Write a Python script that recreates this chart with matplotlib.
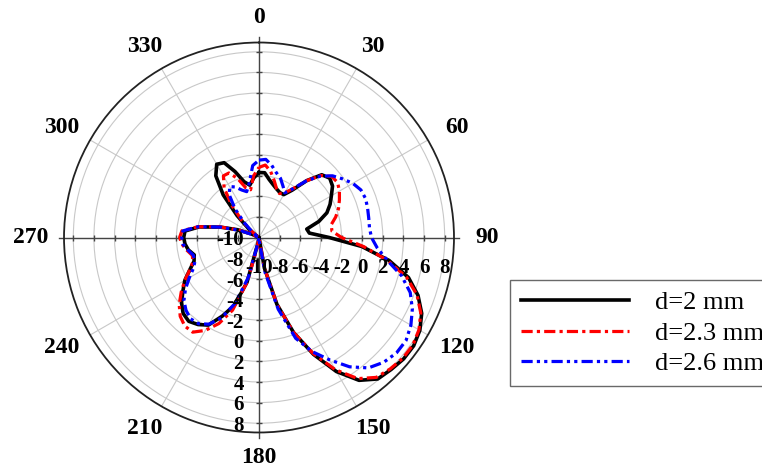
import numpy as np
import matplotlib
matplotlib.use('Agg')
import matplotlib.pyplot as plt

plt.rcParams['font.family'] = ['Liberation Serif', 'DejaVu Serif']

# radiation pattern (dB) sampled every 5 degrees, 0..355
angles = np.arange(0, 360, 5)

gain_2mm = [-3.7, -3.7, -4.3, -4.7, -5.0, -5.2, -5.2, -4.4, -2.8, -1.4,
            -1.05, -1.3, -1.9, -2.4, -3.0, -4.0, -5.3, -5.1, -3.2, 0.0,
            2.8, 5.0, 6.4, 7.4, 8.0, 8.3, 8.3, 8.1, 7.9, 6.9,
            5.0, 2.5, -0.2, -3.3, -7.0, -10, -10, -10, -9.5, -5.5,
            -3.0, -1.6, -0.2, 0.3, 0.6, 0.4, -0.2, -1.0, -1.7, -2.6,
            -3.3, -3.5, -3.05, -2.8, -2.7, -2.8, -4.1, -6.1, -7.8, -9.2,
            -10, -9.6, -8.7, -7.0, -4.6, -2.7, -1.8, -2.0, -3.2, -4.4,
            -4.85, -4.2]

gain_23mm = [-3.2, -2.95, -3.5, -4.3, -5.0, -5.3, -5.0, -4.2, -2.8, -1.5,
             -0.8, -0.7, -1.0, -1.4, -1.8, -2.3, -2.9, -2.9, -2.0, 0.2,
             2.6, 4.8, 6.3, 7.3, 7.9, 8.2, 8.2, 8.0, 7.7, 6.7,
             4.8, 2.4, -0.2, -3.3, -7.0, -10, -10, -10, -9.0, -5.5,
             -2.5, -0.8, 0.4, 1.2, 1.2, 0.8, 0.1, -0.8, -1.7, -2.6,
             -3.2, -3.3, -2.9, -2.5, -2.3, -2.5, -4.0, -6.0, -7.8, -9.2,
             -10, -9.7, -9.0, -7.6, -5.8, -4.1, -3.1, -3.1, -3.9, -5.0,
             -5.3, -4.0]

gain_26mm = [-2.5, -2.4, -2.9, -3.5, -3.9, -4.5, -5.0, -4.2, -2.8, -1.6,
             -0.7, -0.1, 0.5, 0.9, 1.0, 0.9, 0.8, 0.75, 0.9, 1.5,
             2.6, 4.3, 5.6, 6.4, 7.0, 7.4, 7.4, 7.1, 6.5, 5.3,
             3.7, 2.2, 0.4, -2.8, -6.5, -9.5, -10, -10, -9.5, -6.0,
             -3.2, -1.4, -0.3, 0.2, 0.3, 0.0, -0.5, -1.3, -2.2, -3.0,
             -3.4, -3.4, -3.0, -2.6, -2.5, -2.6, -4.0, -6.1, -8.0, -9.4,
             -10, -9.7, -9.1, -8.0, -6.4, -5.0, -4.3, -4.6, -5.1, -5.4,
             -4.6, -3.0]

r_ticks = [-10, -8, -6, -4, -2, 0, 2, 4, 6, 8]
theta_ticks = [0, 30, 60, 90, 120, 150, 180, 210, 240, 270, 300, 330]
r_min, r_max = -10, 8.9

fig = plt.figure(figsize=(7.62, 4.75), dpi=100)
ax = fig.add_axes([0.084, 0.0895, 0.5118, 0.821], projection='polar')
ax.set_theta_zero_location('N')
ax.set_theta_direction(-1)
ax.set_rlim(r_min, r_max)

# light grid rings and spokes
ax.set_rgrids(r_ticks[1:], labels=[])
ax.set_thetagrids(theta_ticks, labels=[])
ax.grid(True, color='#c8c8c8', linewidth=0.8)
ax.spines['polar'].set_color('#222222')
ax.spines['polar'].set_linewidth(1.3)

# angle labels, pushed a bit further out left/right than top/bottom
for t in theta_ticks:
    a = np.deg2rad(t)
    ax.annotate(str(t), xy=(a, r_max), xytext=(np.sin(a) * 24, np.cos(a) * 18),
                textcoords='offset points', ha='center', va='center',
                fontsize=17, fontweight='bold', annotation_clip=False)

# main cross axes, slightly overshooting the outer circle
for t in [0, 90, 180, 270]:
    ax.plot([np.deg2rad(t)] * 2, [r_min, r_max + 0.5], color='#444444',
            linewidth=1.0, clip_on=False, zorder=2)
    ax.plot([np.deg2rad(t)] * len(r_ticks[1:]), r_ticks[1:], linestyle='none',
            marker='|' if t in (90, 270) else '_', markersize=5,
            markeredgewidth=1.0, color='#444444', clip_on=False, zorder=2)

# radial labels along 90 and 180 degrees
for r in r_ticks:
    ax.annotate(str(r), xy=(np.deg2rad(90), r), xytext=(0, -22),
                textcoords='offset points', ha='center', va='center',
                fontsize=15, fontweight='bold', zorder=6)
    ax.annotate(str(r), xy=(np.deg2rad(180), r), xytext=(-11, -2),
                textcoords='offset points', ha='right', va='center',
                fontsize=15, fontweight='bold', zorder=6)

theta = np.deg2rad(np.append(angles, 360))


def closed(vals):
    v = np.clip(np.array(vals, dtype=float), r_min, None)
    return np.append(v, v[0])


l1, = ax.plot(theta, closed(gain_2mm), color='black', linewidth=2.6,
              solid_joinstyle='round', zorder=3, label='d=2 mm')
l2, = ax.plot(theta, closed(gain_23mm), color='red', linewidth=2.3,
              dashes=(3.5, 1.3, 1.0, 1.3), zorder=4, label='d=2.3 mm')
l3, = ax.plot(theta, closed(gain_26mm), color='blue', linewidth=2.3,
              dashes=(3.5, 1.3, 1.0, 1.3, 1.0, 1.3), zorder=5, label='d=2.6 mm')

leg = fig.legend(handles=[l1, l2, l3], loc='upper left',
                 bbox_to_anchor=(510 / 762, 1 - 280 / 475), borderaxespad=0,
                 fontsize=19, handlelength=4.1, handletextpad=1.0,
                 labelspacing=0.27, borderpad=0.41, frameon=True,
                 fancybox=False, edgecolor='#444444')
leg.get_frame().set_linewidth(1.0)

fig.savefig('out.png', dpi=100, facecolor='white')
